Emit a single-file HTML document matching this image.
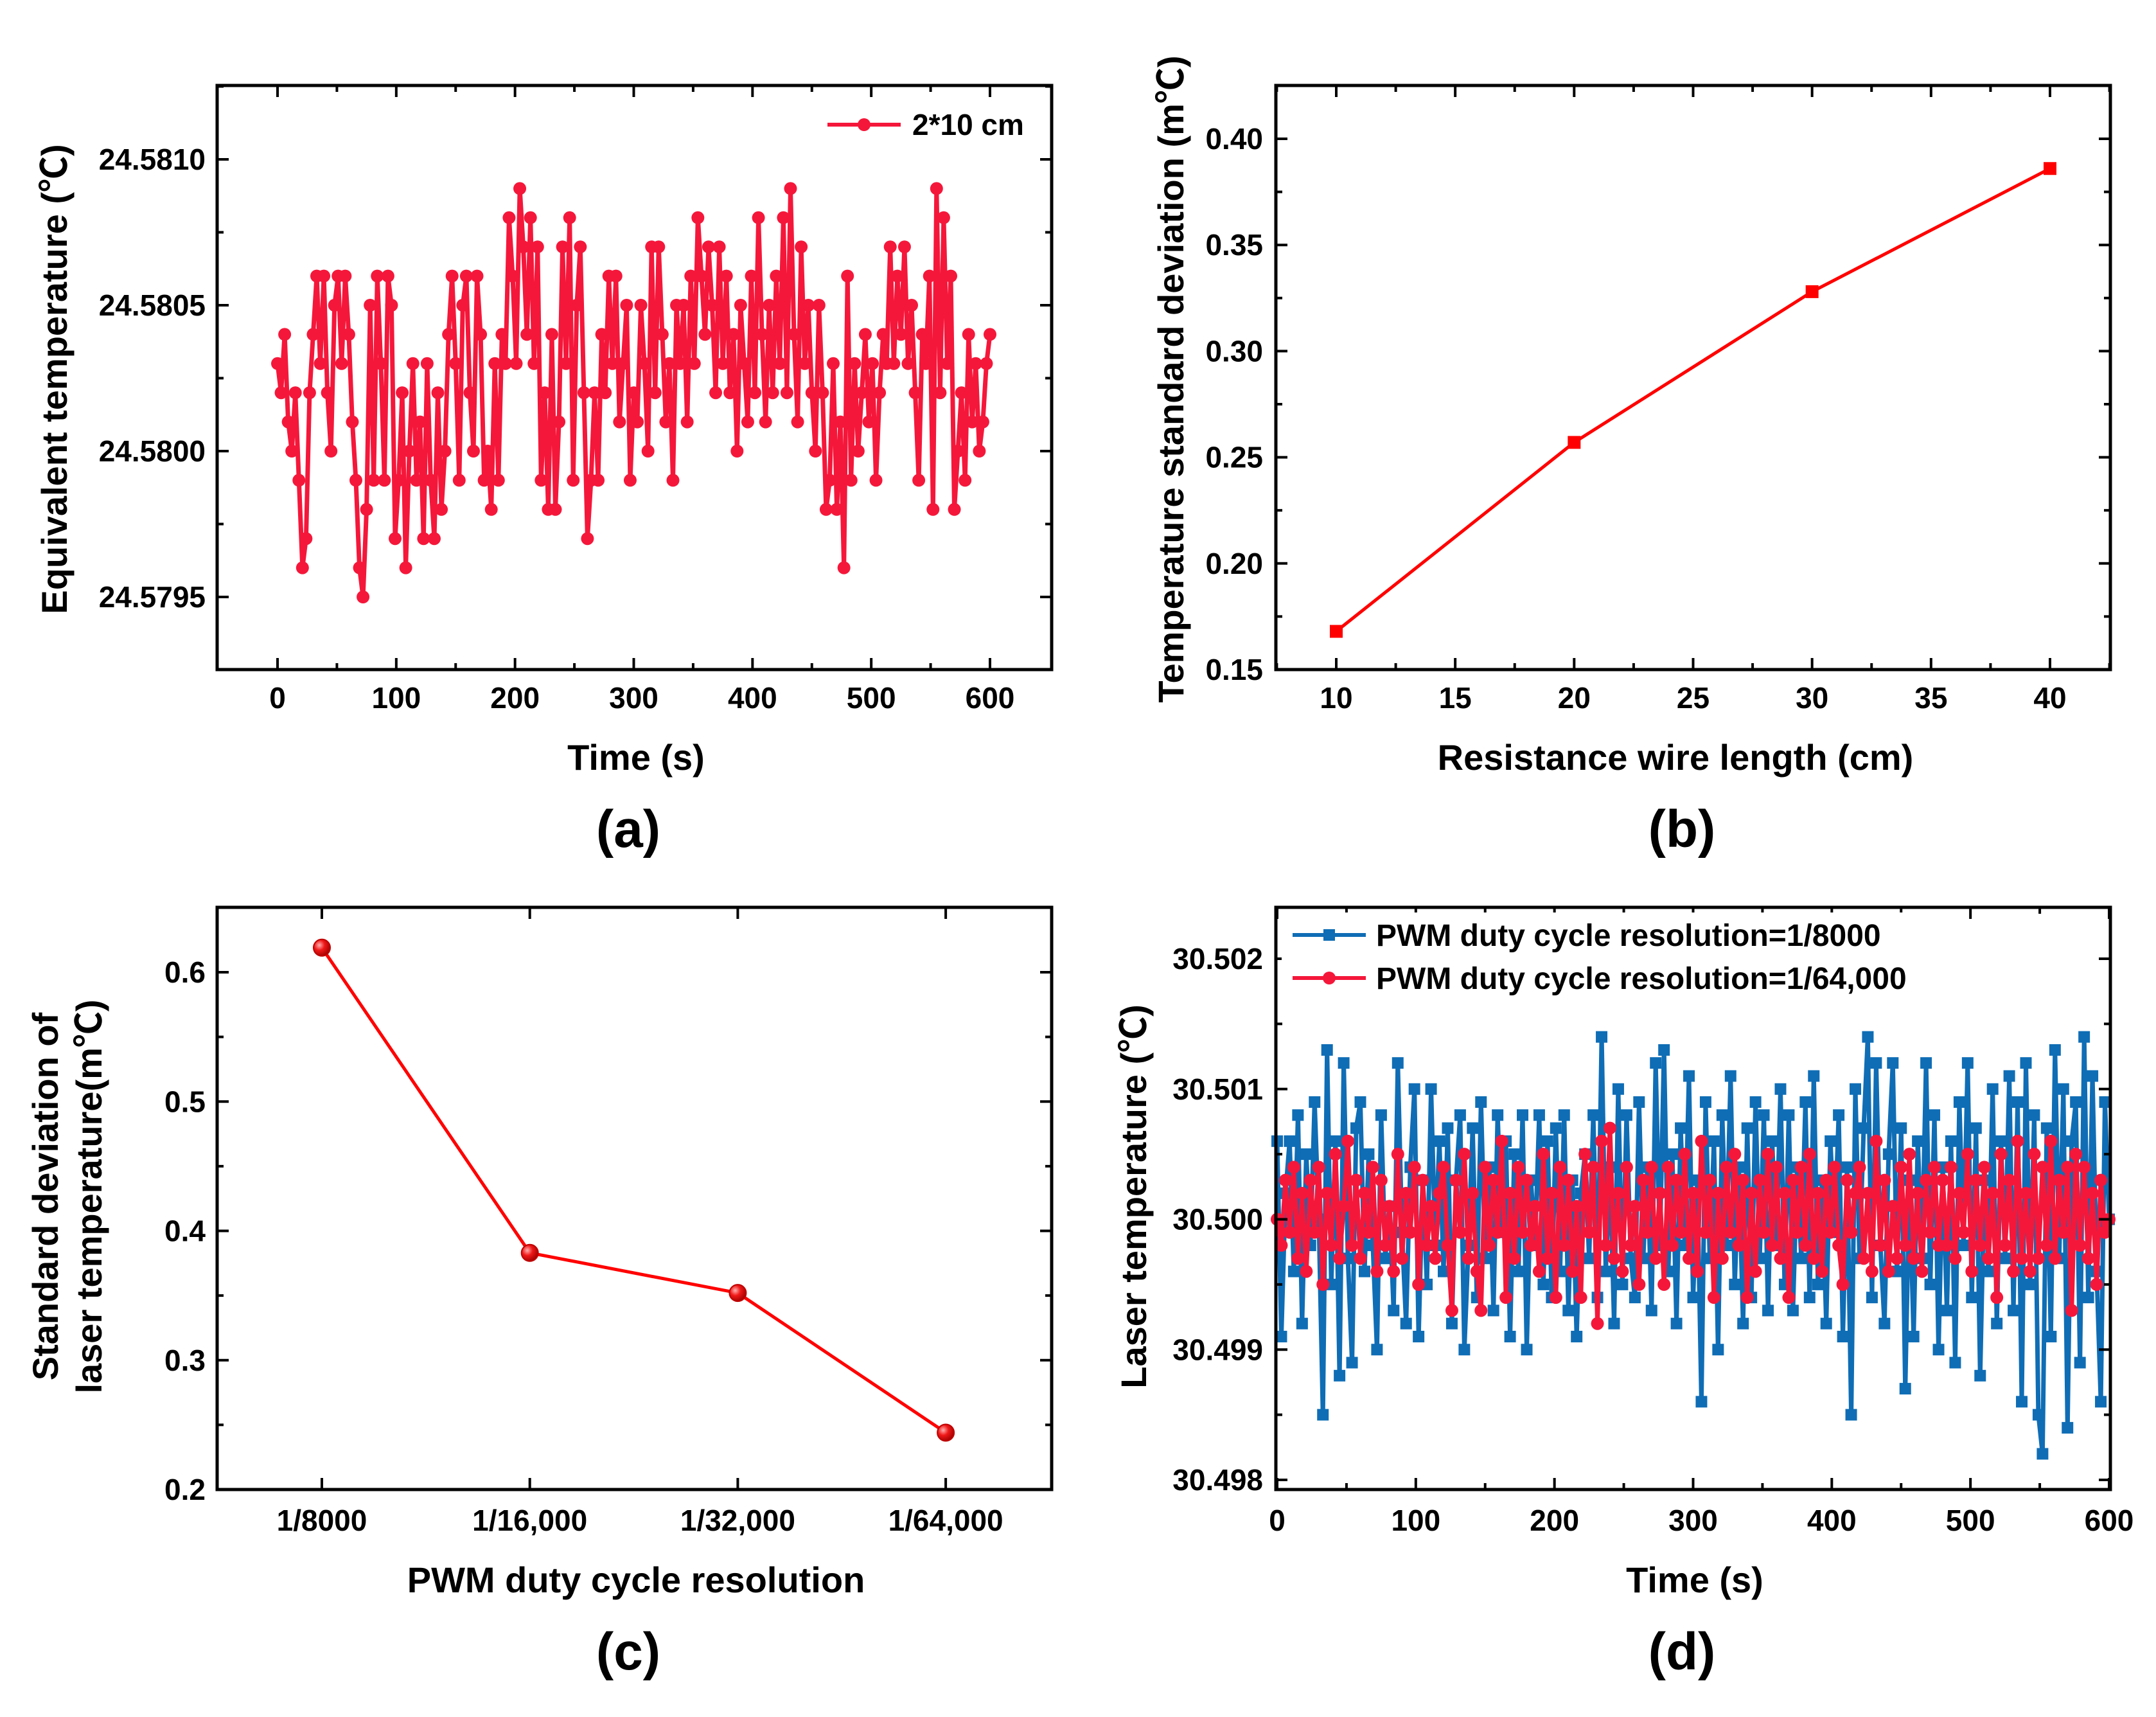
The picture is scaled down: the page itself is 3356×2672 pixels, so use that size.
<!DOCTYPE html>
<html><head><meta charset="utf-8"><style>
html,body{margin:0;padding:0;background:#fff;}
svg{display:block;font-family:"Liberation Sans","Noto Sans CJK SC",sans-serif;font-weight:bold;}
</style></head><body>
<svg id="fig" width="3356" height="2672" viewBox="0 0 3356 2672" xmlns="http://www.w3.org/2000/svg">
<defs><radialGradient id="ballg" cx="0.35" cy="0.35" r="0.7"><stop offset="0" stop-color="#ffb0b0"/><stop offset="0.45" stop-color="#f01818"/><stop offset="1" stop-color="#a00000"/></radialGradient></defs>
</svg>
<script>
// ---- data ----
const aTimeStep = 3;
const aValues = [3,2,4,1,0,2,-1,-4,-3,2,4,6,3,6,2,0,5,6,3,6,
4,1,-1,-4,-5,-2,5,-1,6,3,-1,6,5,-3,-1,2,-4,0,3,-1,
1,-3,3,-1,-3,2,-2,0,4,6,3,-1,5,6,2,0,6,4,-1,0,
-2,3,-1,4,3,8,6,3,9,7,4,8,3,7,-1,2,-2,4,-2,1,
7,3,8,-1,5,7,2,-3,-1,2,-1,4,2,6,3,6,1,3,5,-1,
2,1,5,3,0,7,2,7,4,1,3,-1,5,3,5,1,6,3,8,6,
4,7,5,2,7,3,6,2,4,0,5,3,1,6,2,8,4,1,5,2,
6,3,8,2,9,4,1,7,3,5,2,0,5,2,-2,-1,3,-2,1,-4,
6,-1,3,0,2,4,1,3,-1,2,4,3,7,3,6,4,7,3,5,2,
-1,4,3,6,-2,9,2,8,3,6,-2,0,2,-1,4,1,3,0,1,3,4]; // units of 1e-4 above 24.58
const aYTicks = [24.5795,24.5800,24.5805,24.5810];
const aXTicks = [0,100,200,300,400,500,600];

const bLengths = [10,20,30,40];
const bStd = [0.168,0.257,0.328,0.386];
const bYTicks = [0.15,0.20,0.25,0.30,0.35,0.40];
const bXTicks = [10,15,20,25,30,35,40];

const cCategories = ["1/8000","1/16,000","1/32,000","1/64,000"];
const cStd = [0.619,0.383,0.352,0.244];
const cYTicks = [0.2,0.3,0.4,0.5,0.6];

const dTimeStep = 3;
const dBlue = [6,-9,2,6,-4,8,-8,5,-2,9,0,-15,13,-5,6,-12,12,-3,-11,7,
9,-4,5,-2,-10,8,-3,1,-7,12,-1,-8,4,10,-9,3,-5,10,-2,6,
-4,7,-8,3,8,-10,-2,7,-6,9,-3,4,-7,8,-1,6,-9,5,-4,8,
-10,3,-2,8,-5,6,-6,7,-4,8,-7,3,-9,2,5,-3,8,-6,14,-4,
4,-8,10,-5,8,-3,-6,9,-3,4,-7,12,-2,13,-4,5,-8,7,-2,11,
-6,3,-14,9,-3,6,-10,8,-2,11,-5,4,-8,7,-6,9,-3,8,-7,6,
-2,10,-5,8,-7,4,-3,9,-6,11,-5,3,-8,6,-1,8,-9,4,-15,10,
-3,7,14,-6,12,-2,-8,5,12,-4,7,-13,3,-9,6,-3,12,-5,8,-10,
4,-7,6,-11,9,-2,12,-6,7,-12,3,-4,10,-8,6,-3,11,-7,9,-14,
12,-5,8,-15,-18,7,-9,13,-3,10,-16,6,9,-11,14,-6,11,-4,-14,9,0]; // 1e-4 above 30.5
const dRed = [0,-2,3,-1,4,-3,2,-4,3,-1,4,-5,2,-2,5,-3,1,6,-2,3,
-3,2,-1,4,-4,3,-2,1,-4,5,-3,2,-1,4,-5,3,-2,1,-3,2,
4,-2,-7,3,-1,5,-3,2,-4,-7,4,-2,3,-1,6,-6,2,-3,4,-1,
3,-2,1,-4,5,-3,2,-6,4,-2,3,-4,1,-6,5,-1,4,-8,6,-2,
7,-3,2,-4,4,-2,1,-5,3,-1,4,-3,2,-5,4,-2,3,-1,5,-3,
2,-4,6,-1,3,-6,2,-3,4,-1,5,-2,3,-6,2,-4,3,-1,5,-2,
4,-3,2,-6,3,-1,4,-2,5,-3,2,-4,3,-1,4,-2,-5,3,-1,2,
4,-3,2,-4,6,-2,3,-4,1,-3,4,-2,5,-3,2,-4,3,-1,4,-2,
3,-2,4,-3,2,-1,5,-4,3,-2,4,-3,2,-6,5,-2,3,-4,6,-3,
2,-4,5,-3,4,-2,6,-3,3,-1,4,-7,5,-2,4,-3,2,-5,3,-1,0];
const dYTicks = [30.498,30.499,30.500,30.501,30.502];
const dXTicks = [0,100,200,300,400,500,600];

// ---- helpers ----
const NS="http://www.w3.org/2000/svg";
const svg=document.getElementById('fig');
function mk(tag,attrs,parent,text){const e=document.createElementNS(NS,tag);for(const k in attrs)e.setAttribute(k,attrs[k]);if(text!==undefined)e.textContent=text;(parent||svg).appendChild(e);return e;}
function lin(d0,d1,p0,p1){return v=>p0+(v-d0)*(p1-p0)/(d1-d0);}
function box(g,x0,y0,x1,y1){const r=mk('rect',{x:x0,y:y0,width:x1-x0,height:y1-y0,fill:'none',stroke:'#000','stroke-width':5},g);}
function xTicks(g,pos,y0,y1,len,lo,hi){pos.filter(p=>p>=lo&&p<=hi).forEach(p=>{mk('line',{x1:p,x2:p,y1:y1,y2:y1-len,stroke:'#000','stroke-width':4},g);mk('line',{x1:p,x2:p,y1:y0,y2:y0+len,stroke:'#000','stroke-width':4},g);});}
function yTicks(g,pos,x0,x1,len,lo,hi){pos.filter(p=>p>=lo&&p<=hi).forEach(p=>{mk('line',{y1:p,y2:p,x1:x0,x2:x0+len,stroke:'#000','stroke-width':4},g);mk('line',{y1:p,y2:p,x1:x1,x2:x1-len,stroke:'#000','stroke-width':4},g);});}
function xLabels(g,ticks,fx,y,fmt){ticks.forEach(t=>{const e=mk('text',{x:fx(t),y:y,'text-anchor':'middle','font-size':46},g,fmt(t));});}
function yLabels(g,ticks,fy,x,fmt){ticks.forEach(t=>{const e=mk('text',{x:x,y:fy(t)+16,'text-anchor':'end','font-size':46},g,fmt(t));});}
function title(g,txt,x,y,rot,name,size){const e=mk('text',{x:x,y:y,'text-anchor':'middle','font-size':size||56,transform:rot?`rotate(-90 ${x} ${y})`:''},g,txt);return e;}
function poly(g,xs,ys,color,w,name){const pts=xs.map((x,i)=>x.toFixed(1)+','+ys[i].toFixed(1)).join(' ');const e=mk('polyline',{points:pts,fill:'none',stroke:color,'stroke-width':w,'stroke-linejoin':'round'},g);}

// ---- Panel A ----
(function(){
const g=mk('g',{});
const x0=338,x1=1637,y0=133,y1=1042;
const fx=lin(0,600,432,1541), fy=lin(0,0.0005,702,475);
const fyv=v=>fy(v*0.0001);
const xs=aValues.map((v,i)=>fx(i*aTimeStep)), ys=aValues.map(v=>fyv(v));
const cl=mk('g',{},g);
poly(cl,xs,ys,'#f5173a',7,'series-2x10cm-line');
const mg=mk('g',{fill:'#f5173a'},cl);
xs.forEach((x,i)=>mk('circle',{cx:x,cy:ys[i],r:10},mg));
box(g,x0,y0,x1,y1);
xTicks(g,aXTicks.map(fx),y0,y1,18,x0,x1);
xTicks(g,aXTicks.slice(0,-1).map(t=>fx(t+50)),y0,y1,10,x0,x1);
yTicks(g,aYTicks.map(t=>fy(t-24.58)),x0,x1,18,y0,y1);
yTicks(g,aYTicks.map(t=>fy(t-24.58+0.00025)),x0,x1,10,y0,y1);
xLabels(g,aXTicks,fx,1102,t=>t);
yLabels(g,aYTicks,t=>fy(t-24.58),320,t=>t.toFixed(4));
title(g,'Time (s)',990,1198,false,'x-axis-title-a');
title(g,'Equivalent temperature (℃)',104,590,true,'y-axis-title-a');
title(g,'(a)',978,1318,false,'panel-label-a',82);
const lg=mk('g',{},g);
mk('line',{x1:1288,x2:1402,y1:194,y2:194,stroke:'#f5173a','stroke-width':6},lg);
mk('circle',{cx:1345,cy:194,r:10,fill:'#f5173a'},lg);
const lt=mk('text',{x:1420,y:210,'font-size':46},lg,'2*10 cm');
})();

// ---- Panel B ----
(function(){
const g=mk('g',{});
const x0=1986,x1=3285,y0=133,y1=1042;
const fx=lin(10,40,2080,3191), fy=lin(0.15,0.40,1042,216);
box(g,x0,y0,x1,y1);
xTicks(g,bXTicks.map(fx),y0,y1,18,x0,x1);
xTicks(g,bXTicks.slice(0,-1).map(t=>fx(t+2.5)).concat([fx(7.5),fx(42.5)]),y0,y1,10,x0,x1);
yTicks(g,bYTicks.map(fy),x0,x1,18,y0,y1);
yTicks(g,bYTicks.map(t=>fy(t+0.025)),x0,x1,10,y0,y1);
xLabels(g,bXTicks,fx,1102,t=>t);
yLabels(g,bYTicks,fy,1966,t=>t.toFixed(2));
const xs=bLengths.map(fx), ys=bStd.map(fy);
poly(g,xs,ys,'#ff0000',5,'std-line');
xs.forEach((x,i)=>{const r=mk('rect',{x:x-10,y:ys[i]-10,width:20,height:20,fill:'#ff0000'},g);});
title(g,'Resistance wire length (cm)',2608,1198,false,'x-axis-title-b');
title(g,'Temperature standard deviation (m℃)',1842,590,true,'y-axis-title-b');
title(g,'(b)',2618,1318,false,'panel-label-b',82);
})();

// ---- Panel C ----
(function(){
const g=mk('g',{});
const x0=338,x1=1637,y0=1412,y1=2318;
const fx=i=>501+i*323.7, fy=lin(0.2,0.6,2318,1513);
box(g,x0,y0,x1,y1);
xTicks(g,cCategories.map((c,i)=>fx(i)),y0,y1,18,x0,x1);
yTicks(g,cYTicks.map(fy),x0,x1,18,y0,y1);
yTicks(g,cYTicks.map(t=>fy(t+0.05)),x0,x1,10,y0,y1);
cCategories.forEach((c,i)=>{const e=mk('text',{x:fx(i),y:2382,'text-anchor':'middle','font-size':46},g,c);});
yLabels(g,cYTicks,fy,320,t=>t.toFixed(1));
const xs=cStd.map((v,i)=>fx(i)), ys=cStd.map(fy);
poly(g,xs,ys,'#ff0000',5,'std-line');
xs.forEach((x,i)=>{const r=mk('circle',{cx:x,cy:ys[i],r:13,fill:'url(#ballg)',stroke:'#c00000','stroke-width':2},g);});
title(g,'PWM duty cycle resolution',990,2478,false,'x-axis-title-c');
title(g,'Standard deviation of',90,1862,true,'y-axis-title-c-line1');
title(g,'laser temperature(m℃)',158,1862,true,'y-axis-title-c-line2');
title(g,'(c)',978,2598,false,'panel-label-c',82);
})();

// ---- Panel D ----
(function(){
const g=mk('g',{});
const x0=1986,x1=3285,y0=1412,y1=2318;
const fx=lin(0,600,1988,3283), fy=lin(30.498,30.502,2303,1492);
const fyv=v=>fy(30.5+v*0.0001);
const cl=mk('g',{},g);
const bx=dBlue.map((v,i)=>fx(i*dTimeStep)), by=dBlue.map(fyv);
poly(cl,bx,by,'#0f6db5',7,'series-1-8000-line');
const bm=mk('g',{fill:'#0f6db5'},cl);
bx.forEach((x,i)=>mk('rect',{x:x-9,y:by[i]-9,width:18,height:18},bm));
const rx=dRed.map((v,i)=>fx(i*dTimeStep)), ry=dRed.map(fyv);
poly(cl,rx,ry,'#f5173a',7,'series-1-64000-line');
const rm=mk('g',{fill:'#f5173a'},cl);
rx.forEach((x,i)=>mk('circle',{cx:x,cy:ry[i],r:10},rm));
box(g,x0,y0,x1,y1);
xTicks(g,dXTicks.map(fx),y0,y1,18,x0,x1);
xTicks(g,dXTicks.slice(0,-1).map(t=>fx(t+50)),y0,y1,10,x0,x1);
yTicks(g,dYTicks.map(fy),x0,x1,18,y0,y1);
yTicks(g,dYTicks.map(t=>fy(t+0.0005)),x0,x1,10,y0,y1);
xLabels(g,dXTicks,fx,2382,t=>t);
yLabels(g,dYTicks,fy,1966,t=>t.toFixed(3));
title(g,'Time (s)',2638,2478,false,'x-axis-title-d');
title(g,'Laser temperature (℃)',1784,1862,true,'y-axis-title-d');
title(g,'(d)',2618,2598,false,'panel-label-d',82);
const lg=mk('g',{},g);
mk('rect',{x:1995,y:1420,width:1000,height:135,fill:'#fff'},lg);
mk('line',{x1:2012,x2:2126,y1:1455,y2:1455,stroke:'#0f6db5','stroke-width':6},lg);
mk('rect',{x:2060,y:1446,width:18,height:18,fill:'#0f6db5'},lg);
const l1=mk('text',{x:2142,y:1472,'font-size':48},lg,'PWM duty cycle resolution=1/8000');
mk('line',{x1:2012,x2:2126,y1:1522,y2:1522,stroke:'#f5173a','stroke-width':6},lg);
mk('circle',{cx:2069,cy:1522,r:10,fill:'#f5173a'},lg);
const l2=mk('text',{x:2142,y:1539,'font-size':48},lg,'PWM duty cycle resolution=1/64,000');
})();
</script>
</body></html>
